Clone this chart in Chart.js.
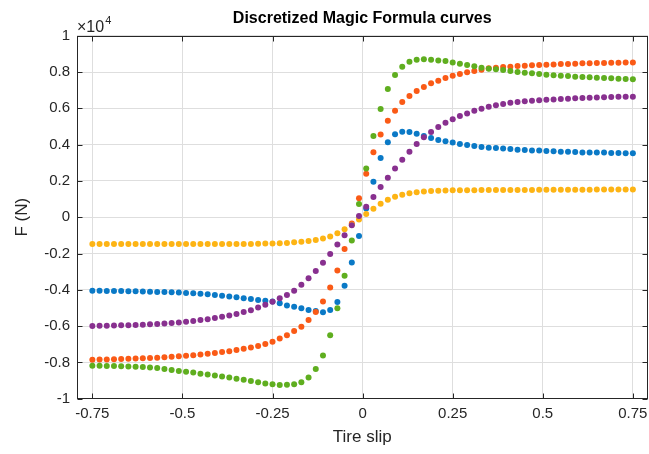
<!DOCTYPE html>
<html>
<head>
<meta charset="utf-8">
<title>Discretized Magic Formula curves</title>
<script src="https://cdn.jsdelivr.net/npm/chart.js@4.4.1/dist/chart.umd.min.js"></script>
<style>
  html, body { margin: 0; padding: 0; background: #fff; }
  #chart { display: block; }
</style>
</head>
<body>
<canvas id="chart" width="649" height="454"></canvas>
<script>
// tire slip samples (x)
const slip = [
  -0.75, -0.73, -0.71, -0.69, -0.67, -0.65, -0.63, -0.61, -0.59, -0.57,
  -0.55, -0.53, -0.51, -0.49, -0.47, -0.45, -0.43, -0.41, -0.39, -0.37,
  -0.35, -0.33, -0.31, -0.29, -0.27, -0.25, -0.23, -0.21, -0.19, -0.17,
  -0.15, -0.13, -0.11, -0.09, -0.07, -0.05, -0.03, -0.01, 0.01, 0.03,
  0.05, 0.07, 0.09, 0.11, 0.13, 0.15, 0.17, 0.19, 0.21, 0.23,
  0.25, 0.27, 0.29, 0.31, 0.33, 0.35, 0.37, 0.39, 0.41, 0.43,
  0.45, 0.47, 0.49, 0.51, 0.53, 0.55, 0.57, 0.59, 0.61, 0.63,
  0.65, 0.67, 0.69, 0.71, 0.73, 0.75
];

// force values in N, one list per curve
const curveBlue = [
  -4050, -4055, -4060, -4065, -4070, -4080, -4085, -4095, -4105, -4115,
  -4125, -4140, -4150, -4170, -4190, -4220, -4250, -4290, -4330, -4370,
  -4410, -4460, -4510, -4560, -4600, -4650, -4740, -4860, -4940, -5020,
  -5110, -5170, -5240, -5110, -4670, -3770, -2490, -1030, 480, 1950,
  3260, 4130, 4570, 4710, 4690, 4600, 4470, 4360, 4250, 4190,
  4110, 4030, 3980, 3920, 3870, 3830, 3810, 3780, 3760, 3720,
  3700, 3680, 3670, 3650, 3630, 3610, 3610, 3590, 3570, 3570,
  3560, 3560, 3540, 3540, 3520, 3520
];
const curveOrange = [
  -7850, -7845, -7835, -7825, -7815, -7805, -7790, -7775, -7760, -7740,
  -7720, -7690, -7660, -7630, -7600, -7560, -7520, -7480, -7430, -7380,
  -7320, -7250, -7180, -7100, -6980, -6860, -6690, -6510, -6270, -6030,
  -5660, -5220, -4640, -3880, -2930, -1750, -350, 1040, 2400, 3580,
  4550, 5320, 5870, 6350, 6680, 6950, 7170, 7380, 7520, 7670,
  7800, 7890, 7980, 8060, 8130, 8200, 8240, 8280, 8290, 8330,
  8350, 8370, 8390, 8400, 8420, 8440, 8440, 8460, 8480, 8480,
  8500, 8500, 8510, 8510, 8530, 8530
];
const curveYellow = [
  -1470, -1470, -1470, -1470, -1470, -1470, -1470, -1470, -1470, -1470,
  -1470, -1470, -1470, -1470, -1470, -1470, -1470, -1470, -1470, -1470,
  -1470, -1470, -1470, -1460, -1455, -1450, -1440, -1420, -1385, -1350,
  -1310, -1250, -1170, -1060, -890, -670, -410, -130, 180, 470,
  740, 960, 1120, 1240, 1320, 1380, 1410, 1440, 1460, 1470,
  1480, 1485, 1490, 1490, 1495, 1495, 1500, 1500, 1500, 1505,
  1505, 1505, 1510, 1510, 1510, 1510, 1515, 1515, 1515, 1515,
  1520, 1520, 1520, 1520, 1520, 1520
];
const curvePurple = [
  -5990, -5985, -5980, -5970, -5960, -5950, -5935, -5920, -5900, -5880,
  -5855, -5830, -5800, -5760, -5720, -5670, -5620, -5560, -5490, -5410,
  -5330, -5230, -5130, -4980, -4830, -4660, -4470, -4280, -4050, -3720,
  -3360, -2960, -2510, -2030, -1510, -990, -450, 70, 580, 1110,
  1660, 2180, 2690, 3170, 3610, 4030, 4400, 4690, 4970, 5200,
  5400, 5570, 5710, 5860, 5980, 6080, 6170, 6240, 6300, 6350,
  6390, 6420, 6450, 6470, 6490, 6510, 6530, 6550, 6570, 6580,
  6600, 6610, 6620, 6630, 6640, 6640
];
const curveGreen = [
  -8180, -8185, -8195, -8205, -8215, -8230, -8245, -8260, -8285, -8315,
  -8360, -8420, -8470, -8510, -8560, -8620, -8670, -8720, -8770, -8830,
  -8900, -8960, -9030, -9100, -9160, -9210, -9240, -9230, -9200, -9100,
  -8830, -8370, -7620, -6500, -5020, -3230, -1280, 730, 2690, 4470,
  5960, 7060, 7830, 8290, 8570, 8680, 8700, 8680, 8640, 8600,
  8520, 8450, 8380, 8310, 8240, 8180, 8150, 8110, 8060, 8000,
  7960, 7930, 7890, 7850, 7820, 7800, 7780, 7740, 7720, 7710,
  7690, 7670, 7650, 7630, 7610, 7600
];

// tick positions and labels
const xTicks = [-0.75, -0.5, -0.25, 0, 0.25, 0.5, 0.75];
const xTickLabels = ['-0.75', '-0.5', '-0.25', '0', '0.25', '0.5', '0.75'];
const yTicks = [-10000, -8000, -6000, -4000, -2000, 0, 2000, 4000, 6000, 8000, 10000];
const yTickLabels = ['-1', '-0.8', '-0.6', '-0.4', '-0.2', '0', '0.2', '0.4', '0.6', '0.8', '1'];

const FONT = "'Liberation Sans', Arial, Helvetica, sans-serif";
const AXIS_COLOR = '#262626';
const GRID_COLOR = '#dedede';

function toPoints(values){
  return slip.map((x, i) => ({ x: x, y: values[i] }));
}

// MATLAB-like box, inward ticks and the x10^4 exponent label
const axesBox = {
  id: 'axesBox',
  afterDraw(chart){
    const { ctx, chartArea: a, scales } = chart;
    const L = Math.round(a.left) + 0.5, R = Math.round(a.right) - 0.5;
    const T = Math.round(a.top) + 0.5, B = Math.round(a.bottom) - 0.5;
    ctx.save();
    ctx.strokeStyle = AXIS_COLOR;
    ctx.lineWidth = 1;
    ctx.strokeRect(L, T, R - L, B - T);
    const tl = 5;
    ctx.beginPath();
    xTicks.forEach(v => {
      const px = Math.round(scales.x.getPixelForValue(v)) + 0.5;
      ctx.moveTo(px, B); ctx.lineTo(px, B - tl);
      ctx.moveTo(px, T); ctx.lineTo(px, T + tl);
    });
    yTicks.forEach(v => {
      const py = Math.round(scales.y.getPixelForValue(v)) + 0.5;
      ctx.moveTo(L, py); ctx.lineTo(L + tl, py);
      ctx.moveTo(R, py); ctx.lineTo(R - tl, py);
    });
    ctx.stroke();

    ctx.fillStyle = AXIS_COLOR;
    ctx.textBaseline = 'alphabetic';
    ctx.textAlign = 'left';
    ctx.font = '16px ' + FONT;
    const base = '\u00d710';
    ctx.fillText(base, 77, 32);
    const w = ctx.measureText(base).width;
    ctx.font = '11px ' + FONT;
    ctx.fillText('4', 77 + w + 1, 24);
    ctx.restore();
  }
};

const mk = (label, values, color, order) => ({
  label: label,
  data: toPoints(values),
  backgroundColor: color,
  borderWidth: 0,
  pointRadius: 3,
  pointHoverRadius: 3,
  order: order
});

const chart = new Chart(document.getElementById('chart'), {
  type: 'scatter',
  data: {
    datasets: [
      mk('curve 1', curveBlue, '#0a79c6', 4),
      mk('curve 2', curveOrange, '#fa5a16', 3),
      mk('curve 3', curveYellow, '#fdb414', 2),
      mk('curve 4', curvePurple, '#88308f', 1),
      mk('curve 5', curveGreen, '#5fae1f', 0)
    ]
  },
  options: {
    responsive: false,
    animation: false,
    devicePixelRatio: 1,
    layout: { autoPadding: false, padding: { left: 0, right: 1, top: 0, bottom: 0 } },
    plugins: {
      legend: { display: false },
      tooltip: { enabled: false },
      title: {
        display: true,
        fullSize: false,
        text: 'Discretized Magic Formula curves',
        color: '#000',
        font: { family: FONT, size: 16, weight: 'bold' },
        padding: { top: 9, bottom: 7.5 }
      }
    },
    scales: {
      x: {
        type: 'linear',
        min: -0.794,
        max: 0.792,
        afterBuildTicks: s => { s.ticks = xTicks.map(v => ({ value: v })); },
        afterFit: s => { s.height = 55.3; s.paddingLeft = 0; s.paddingRight = 0; },
        grid: { color: GRID_COLOR, drawTicks: false },
        border: { display: false },
        ticks: {
          autoSkip: false,
          maxRotation: 0,
          padding: 6,
          color: AXIS_COLOR,
          font: { family: FONT, size: 15 },
          callback: (v, i) => xTickLabels[i]
        },
        title: {
          display: true,
          text: 'Tire slip',
          color: AXIS_COLOR,
          font: { family: FONT, size: 17 },
          padding: { top: 0, bottom: 6 }
        }
      },
      y: {
        type: 'linear',
        min: -10000,
        max: 10000,
        afterBuildTicks: s => { s.ticks = yTicks.map(v => ({ value: v })); },
        afterFit: s => { s.width = 76.5; s.paddingTop = 0; s.paddingBottom = 0; },
        grid: { color: GRID_COLOR, drawTicks: false },
        border: { display: false },
        ticks: {
          autoSkip: false,
          padding: 6.5,
          color: AXIS_COLOR,
          font: { family: FONT, size: 15 },
          callback: (v, i) => yTickLabels[i]
        },
        title: {
          display: true,
          text: 'F (N)',
          color: AXIS_COLOR,
          font: { family: FONT, size: 17 },
          padding: { top: 12, bottom: 0 }
        }
      }
    }
  },
  plugins: [axesBox]
});
</script>
</body>
</html>
